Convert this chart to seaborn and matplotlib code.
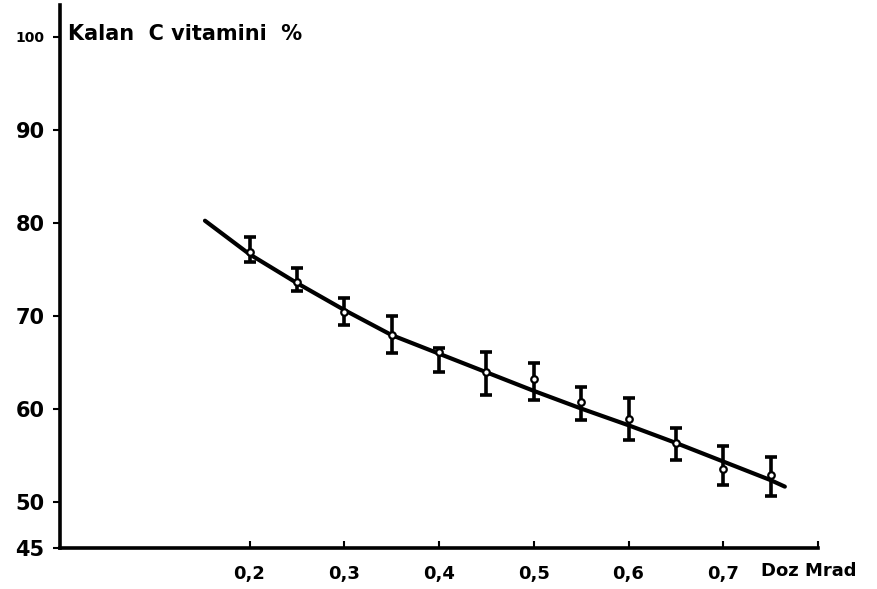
import matplotlib
matplotlib.use("Agg")
import matplotlib.pyplot as plt
import seaborn as sns
import numpy as np
import pandas as pd

# Measured points (dose in Mrad, remaining vitamin C %)
dose = [0.20, 0.25, 0.30, 0.35, 0.40, 0.45, 0.50, 0.55, 0.60, 0.65, 0.70, 0.75]
mean_val = [76.8, 73.6, 70.4, 67.9, 66.1, 63.9, 63.2, 60.7, 58.9, 56.3, 53.5, 52.9]
err_low = [75.8, 72.6, 69.0, 66.0, 63.9, 61.5, 60.9, 58.8, 56.6, 54.5, 51.8, 50.6]
err_high = [78.4, 75.1, 71.9, 69.9, 66.5, 66.1, 64.9, 62.3, 61.1, 57.9, 56.0, 54.8]

# Hand-drawn smooth curve
curve_x = [0.153, 0.20, 0.25, 0.30, 0.35, 0.40, 0.45, 0.50, 0.55, 0.60, 0.65, 0.70, 0.75, 0.765]
curve_y = [80.2, 76.6, 73.5, 70.6, 67.9, 65.9, 63.9, 61.9, 60.0, 58.2, 56.3, 54.3, 52.3, 51.6]

x_ticks = [0.2, 0.3, 0.4, 0.5, 0.6, 0.7]
x_tick_labels = ["0,2", "0,3", "0,4", "0,5", "0,6", "0,7"]
y_ticks = [45, 50, 60, 70, 80, 90, 100]
y_tick_labels = ["45", "50", "60", "70", "80", "90", "100"]

sns.set_style("ticks")
plt.rcParams["font.family"] = ["DejaVu Sans"]
plt.rcParams["text.color"] = "black"
plt.rcParams["xtick.color"] = "black"
plt.rcParams["ytick.color"] = "black"
plt.rcParams["xtick.labelcolor"] = "black"
plt.rcParams["ytick.labelcolor"] = "black"

fig = plt.figure(figsize=(8.77, 5.89), dpi=100)
ax = fig.add_axes([60 / 877, 41 / 589, 758 / 877, 543 / 589])

curve_df = pd.DataFrame({"dose": curve_x, "val": curve_y})
sns.lineplot(data=curve_df, x="dose", y="val", ax=ax, color="black", linewidth=3.0, sort=True)

dose_a = np.array(dose)
mean_a = np.array(mean_val)
yerr = np.vstack([mean_a - np.array(err_low), np.array(err_high) - mean_a])
ax.errorbar(dose_a, mean_a, yerr=yerr, fmt="none", ecolor="black", elinewidth=2.6,
            capsize=4, capthick=2.6, zorder=3)
pts_df = pd.DataFrame({"dose": dose, "val": mean_val})
sns.scatterplot(data=pts_df, x="dose", y="val", ax=ax, s=22, facecolor="white",
                edgecolor="black", linewidth=1.6, zorder=4)

ax.set_xlim(0, 0.8)
ax.set_ylim(45, 103.4)
ax.set_xticks(x_ticks + [0.8])
ax.set_xticklabels(x_tick_labels + [""], fontsize=13, fontweight="bold", color="black")
ax.set_yticks(y_ticks)
ax.set_yticklabels(y_tick_labels, fontsize=15, fontweight="bold", color="black")
for lab in ax.get_yticklabels():
    if lab.get_text() == "100":
        lab.set_fontsize(10)
ax.tick_params(axis="x", direction="in", length=5, width=1.5, pad=12)
ax.tick_params(axis="y", direction="out", length=5, width=1.5, pad=6)

ax.set_xlabel("")
ax.set_ylabel("")
sns.despine(ax=ax)
for side in ["left", "bottom"]:
    ax.spines[side].set_linewidth(2.6)
    ax.spines[side].set_color("black")

ax.text(0.008, 100.3, "Kalan  C vitamini  %", fontsize=15, fontweight="bold",
        ha="left", va="center", color="black")
ax.text(0.74, 42.5, "Doz Mrad", fontsize=13, fontweight="bold", ha="left", va="center",
        clip_on=False, color="black")

fig.savefig("out.png", dpi=100)
